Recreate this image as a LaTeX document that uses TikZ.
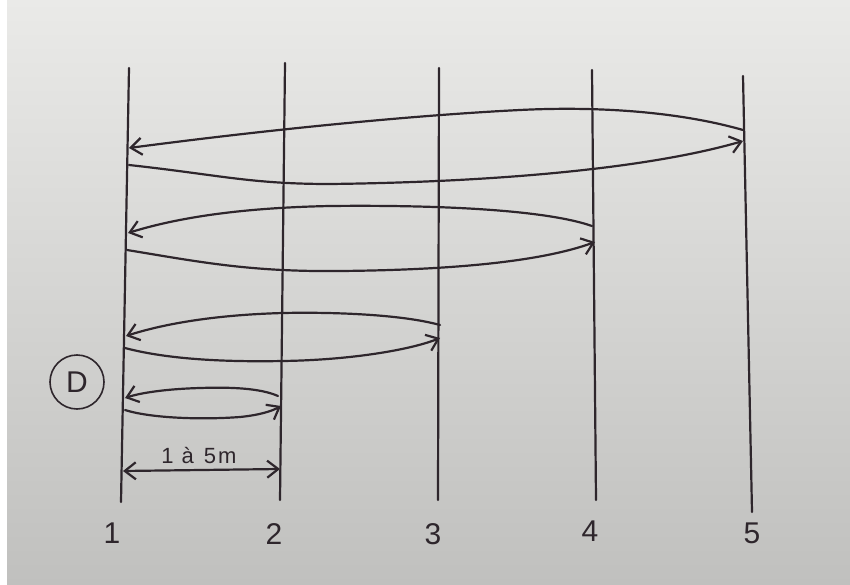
\documentclass[tikz,border=0pt]{standalone}
\usepackage{fontspec}
\setmainfont{Liberation Sans}
\usetikzlibrary{arrows.meta}
\definecolor{ink}{RGB}{46,38,44}
\definecolor{paperTop}{RGB}{234,234,232}
\definecolor{paperMid}{RGB}{224,224,222}
\definecolor{paperBot}{RGB}{192,192,190}

\begin{document}
\begin{tikzpicture}[x=1pt, y=-1pt,
    pen/.style={draw=ink, line width=2.2pt, line cap=round, line join=round},
    barb/.style={-{Straight Barb[length=11pt, width=17pt]}},
    barbs/.style={{Straight Barb[length=11pt, width=17pt]}-{Straight Barb[length=11pt, width=17pt]}},
    lbl/.style={text=ink, font=\fontsize{30}{34}\selectfont, inner sep=0pt}]
    \useasboundingbox (0,0) rectangle (850,585);
    % Paper
    \fill[white] (0,0) rectangle (850,585);
    \shade[top color=paperTop, middle color=paperMid, bottom color=paperBot]
        (7,0) rectangle (850,585);
    % Lines
    \coordinate (t1) at (129,68);  \coordinate (b1) at (121,502);
    \coordinate (t2) at (285,63);  \coordinate (b2) at (280,500);
    \coordinate (t3) at (439,68);  \coordinate (b3) at (438,500);
    \coordinate (t4) at (592,70);  \coordinate (b4) at (596,500);
    \coordinate (t5) at (743,76);  \coordinate (b5) at (752,512);
    \draw[pen] (t1) -- (b1);
    \draw[pen] (t2) -- (b2);
    \draw[pen] (t3) -- (b3);
    \draw[pen] (t4) -- (b4);
    \draw[pen] (t5) -- (b5);
    % Labels
    \node[lbl] (l1) at (112,533) {1};
    \node[lbl] (l2) at (274,534) {2};
    \node[lbl] (l3) at (433,534) {3};
    \node[lbl] (l4) at (590,531) {4};
    \node[lbl] (l5) at (752,533) {5};
    \node[lbl, circle, draw=ink, line width=1.6pt, minimum size=54pt,
        font=\fontsize{30}{34}\selectfont] (d) at (77,382) {D};
    % Loop to 5
    \coordinate (r5top) at (743,130); \coordinate (l5tip) at (129,148);
    \coordinate (l5bot) at (129,165); \coordinate (r5tip) at (743,141);
    \draw[pen, barb] (r5top) .. controls (680,112) and (600,106) .. (520,110)
        .. controls (400,116) and (250,132) .. (l5tip);
    \draw[pen, barb] (l5bot) .. controls (220,175) and (250,184) .. (330,184)
        .. controls (500,182) and (650,168) .. (r5tip);
    % Loop to 4
    \coordinate (r4top) at (592,226); \coordinate (l4tip) at (128,233);
    \coordinate (l4bot) at (127,250); \coordinate (r4tip) at (595,242);
    \draw[pen, barb] (r4top) .. controls (540,208) and (420,205) .. (330,206)
        .. controls (230,208) and (170,220) .. (l4tip);
    \draw[pen, barb] (l4bot) .. controls (200,262) and (250,272) .. (340,271)
        .. controls (450,270) and (540,262) .. (r4tip);
    % Loop to 3
    \coordinate (r3top) at (440,325); \coordinate (l3tip) at (126,336);
    \coordinate (l3bot) at (125,348); \coordinate (r3tip) at (440,338);
    \draw[pen, barb] (r3top) .. controls (400,314) and (330,312) .. (283,313)
        .. controls (210,315) and (160,325) .. (l3tip);
    \draw[pen, barb] (l3bot) .. controls (170,360) and (230,362) .. (283,361)
        .. controls (350,360) and (410,350) .. (r3tip);
    % Loop to 2
    \coordinate (r2top) at (278,396); \coordinate (l2tip) at (125,398);
    \coordinate (l2bot) at (125,410); \coordinate (r2tip) at (281,406);
    \draw[pen, barb] (r2top) .. controls (260,388) and (230,387) .. (200,388)
        .. controls (165,389) and (140,393) .. (l2tip);
    \draw[pen, barb] (l2bot) .. controls (150,418) and (200,420) .. (240,417)
        .. controls (260,415) and (272,411) .. (r2tip);
    % Span
    \coordinate (m1) at (123,471); \coordinate (m2) at (280,469);
    \draw[pen, barbs] (m1) -- (m2);
    \node[lbl, font=\fontsize{22}{26}\selectfont] (span) at (199,456)
        {1\hspace{8pt}à\hspace{10pt}5\hspace{2pt}m};
\end{tikzpicture}
\end{document}
